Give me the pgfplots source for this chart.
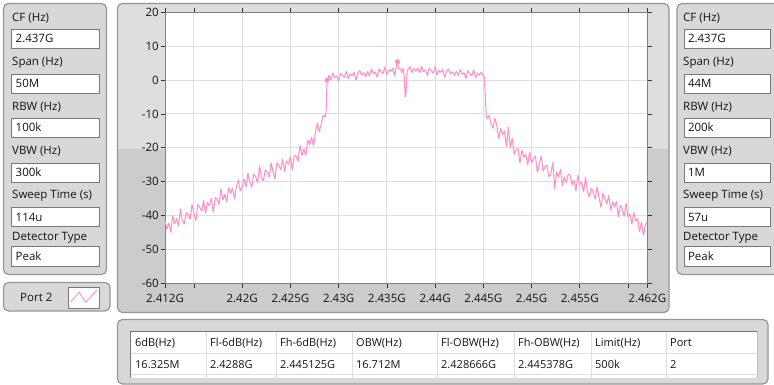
\documentclass[border=0pt]{standalone}
\usepackage{pgfplots}
\pgfplotsset{compat=1.18}
\usepackage{fontspec}
\setmainfont{Open Sans}
\definecolor{pnl}{RGB}{216,216,216}
\definecolor{pnlL}{RGB}{222,222,222}
\definecolor{pnlD}{RGB}{204,204,204}
\definecolor{edge}{RGB}{150,150,150}
\definecolor{boxedge}{RGB}{120,120,120}
\definecolor{txt}{RGB}{20,20,20}
\definecolor{trace}{RGB}{255,145,200}
\definecolor{gridc}{RGB}{222,222,222}
\newcommand{\uif}{\fontsize{11.5}{13}\selectfont}
\newcommand{\tbf}{\fontsize{11}{12}\selectfont}
% label x, box x1, box x2, label y, box y1, box y2, label, value
\newcommand{\field}[8]{%
  \node[anchor=base west, inner sep=0, text=txt] at (#1,#4+4.2) {\uif #7};
  \draw[fill=white, draw=boxedge, line width=0.9pt] (#2,#5) rectangle (#3,#6);
  \node[anchor=base west, inner sep=0, text=txt] at (#2+3.8,#5/2+#6/2+4.2) {\uif #8};
}
\begin{document}
\begin{tikzpicture}
\useasboundingbox (0pt,0pt) rectangle (774pt,-385pt);
\fill[white] (0pt,0pt) rectangle (774pt,-385pt);
\begin{scope}[x=1pt,y=-1pt]
  % graph panel
  \begin{scope}
    \clip[rounded corners=5pt] (117.5,3.5) rectangle (669,312.5);
    \fill[pnlL] (110,0) rectangle (680,149);
    \fill[pnlD] (110,149) rectangle (680,320);
  \end{scope}
  \draw[draw=edge, line width=1.2pt, rounded corners=5pt] (117.5,3.5) rectangle (669,312.5);
  % left panel
  \draw[fill=pnl, draw=edge, line width=1.2pt, rounded corners=5pt] (3.5,3.5) rectangle (106.5,274.5);
  \field{12}{11.7}{99}{17}{29}{48}{CF (Hz)}{2.437G}
  \field{12}{11.7}{99}{61.5}{74}{93}{Span (Hz)}{50M}
  \field{12}{11.7}{99}{106}{118}{137}{RBW (Hz)}{100k}
  \field{12}{11.7}{99}{150.5}{163}{182}{VBW (Hz)}{300k}
  \field{12}{11.7}{99}{194.7}{207}{226.7}{Sweep Time (s)}{114u}
  \field{12}{11.7}{99}{236}{246.5}{266.5}{Detector Type}{Peak}
  % right panel
  \draw[fill=pnl, draw=edge, line width=1.2pt, rounded corners=5pt] (677,3.5) rectangle (780,274.5);
  \field{683}{684}{770}{17}{29}{48}{CF (Hz)}{2.437G}
  \field{683}{684}{770}{61.5}{74}{93}{Span (Hz)}{44M}
  \field{683}{684}{770}{106}{118}{137}{RBW (Hz)}{200k}
  \field{683}{684}{770}{150.5}{163}{182}{VBW (Hz)}{1M}
  \field{683}{684}{770}{194.7}{207}{226.7}{Sweep Time (s)}{57u}
  \field{683}{684}{770}{236}{246.5}{266.5}{Detector Type}{Peak}
  % port legend
  \draw[fill=pnl, draw=edge, line width=1.2pt, rounded corners=5pt] (3.5,282.5) rectangle (110,311);
  \node[anchor=base west, inner sep=0, text=txt] at (20,301.2) {\uif Port 2};
  \draw[fill=white, draw=boxedge, line width=0.8pt] (68,287.5) rectangle (99,308);
  \draw[trace, line width=0.9pt] (71,301.7) -- (79,292.3) -- (86,302.3) -- (97,290);
  % table panel
  \draw[fill=pnl, draw=edge, line width=1.2pt, rounded corners=5pt] (117.5,319.5) rectangle (768,384);
  \fill[white] (130,331) rectangle (757,378);
  \draw[gridc, line width=0.8pt] (130,353) -- (757,353);
  \draw[gridc, line width=0.8pt] (130,374.5) -- (757,374.5);
  \foreach \cx in {206,276,352,437,514,591,666} {\draw[gridc, line width=0.8pt] (\cx,331) -- (\cx,378);}
  \draw[boxedge, line width=0.8pt] (130,378) -- (130,331) -- (757,331);
  \draw[black!25, line width=0.6pt] (757,331) -- (757,378);
  \foreach \cx/\h/\v in {135/6dB(Hz)/16.325M, 210/Fl-6dB(Hz)/2.4288G, 280/Fh-6dB(Hz)/2.445125G, 356/OBW(Hz)/16.712M, 441/Fl-OBW(Hz)/2.428666G, 518/Fh-OBW(Hz)/2.445378G, 595/Limit(Hz)/500k, 670/Port/2} {
    \node[anchor=base west, inner sep=0, text=txt] at (\cx,346.5) {\tbf \h};
    \node[anchor=base west, inner sep=0, text=txt] at (\cx,368.5) {\tbf \v};
  }
\end{scope}
\begin{axis}[
  at={(165pt,-283.3pt)}, anchor=south west,
  scale only axis, width=482.3pt, height=271pt,
  xmin=2412, xmax=2462, ymin=-60, ymax=20,
  axis background/.style={fill=white},
  axis line style={draw=black!50, line width=0.8pt},
  xtick={2412,2415,2420,2425,2430,2435,2440,2445,2450,2455,2460,2462},
  xticklabels={2.412G,,2.42G,2.425G,2.43G,2.435G,2.44G,2.445G,2.45G,2.455G,,2.462G},
  ytick={-60,-50,-40,-30,-20,-10,0,10,20},
  tick align=outside, major tick length=4.5pt,
  tick style={black!80, line width=0.7pt},
  xmajorgrids, ymajorgrids,
  grid style={draw=gridc, line width=1pt},
  tick label style={font=\fontsize{11.5}{12}\selectfont, text=txt},
  yticklabel style={inner sep=1.5pt},
  xticklabel style={yshift=-3pt},
  /pgf/number format/assume math mode=true,
  clip=true,
]
\addplot[trace, line width=1.05pt, line join=bevel] coordinates {
(2412.0,-41.5) (2412.2,-44.0) (2412.4,-42.2) (2412.6,-45.0) (2412.8,-40.0)
(2413.0,-42.5) (2413.2,-40.8) (2413.4,-43.2) (2413.6,-38.0) (2413.8,-41.6)
(2414.0,-42.5) (2414.2,-39.1) (2414.4,-39.7) (2414.6,-41.1) (2414.8,-36.7)
(2415.0,-39.3) (2415.2,-41.5) (2415.4,-36.7) (2415.6,-37.5) (2415.8,-38.8)
(2416.0,-35.5) (2416.2,-39.4) (2416.4,-36.1) (2416.6,-37.2) (2416.8,-34.9)
(2417.0,-39.0) (2417.2,-34.7) (2417.4,-35.1) (2417.6,-36.7) (2417.8,-32.0)
(2418.0,-35.4) (2418.2,-33.7) (2418.4,-36.0) (2418.6,-31.7) (2418.8,-33.5)
(2419.0,-31.8) (2419.2,-35.1) (2419.4,-31.5) (2419.6,-29.5) (2419.8,-32.7)
(2420.0,-31.4) (2420.2,-29.1) (2420.4,-31.6) (2420.6,-27.5) (2420.8,-30.3)
(2421.0,-31.7) (2421.2,-27.7) (2421.4,-28.5) (2421.6,-30.4) (2421.8,-25.3)
(2422.0,-28.8) (2422.2,-29.8) (2422.4,-26.5) (2422.6,-27.2) (2422.8,-28.7)
(2423.0,-24.4) (2423.2,-27.0) (2423.4,-29.2) (2423.6,-24.4) (2423.8,-25.2)
(2424.0,-26.5) (2424.2,-23.2) (2424.4,-27.1) (2424.6,-23.8) (2424.8,-24.9)
(2425.0,-22.6) (2425.2,-26.6) (2425.4,-22.2) (2425.6,-22.5) (2425.8,-24.0)
(2426.0,-19.2) (2426.2,-22.3) (2426.4,-20.3) (2426.6,-22.3) (2426.8,-17.7)
(2427.0,-19.2) (2427.2,-16.8) (2427.4,-19.5) (2427.6,-15.3) (2427.8,-12.7)
(2428.0,-15.3) (2428.2,-12.9) (2428.4,-10.4) (2428.6,-11.0) (2428.7,-9.5)
(2428.8,-0.2) (2428.9,0.3)
(2429.0,1.4) (2429.2,0.1) (2429.4,2.1) (2429.6,0.7) (2429.8,1.2)
(2430.0,-0.4) (2430.2,2.1) (2430.4,1.3) (2430.6,0.7) (2430.8,2.7)
(2431.0,0.3) (2431.2,1.9) (2431.4,1.3) (2431.6,2.4) (2431.8,-0.1)
(2432.0,2.2) (2432.2,2.8) (2432.4,1.4) (2432.6,2.2) (2432.8,1.0)
(2433.0,2.6) (2433.2,1.3) (2433.4,3.3) (2433.6,1.9) (2433.8,2.4)
(2434.0,0.8) (2434.2,3.3) (2434.4,2.5) (2434.6,1.9) (2434.8,3.9)
(2435.0,1.5) (2435.2,3.1) (2435.4,2.5) (2435.6,3.6) (2435.8,1.1)
(2436.0,4.4) (2436.1,5.4) (2436.2,3.4) (2436.4,3.3) (2436.6,2.2)
(2436.7,3.6) (2436.8,1.0) (2436.9,-5.0) (2437.0,-3.5) (2437.1,2.5)
(2437.2,3.2) (2437.4,4.0) (2437.6,2.2) (2437.8,3.4) (2438.0,2.6)
(2438.2,3.6) (2438.4,2.1) (2438.6,4.1) (2438.8,2.5) (2439.0,3.0)
(2439.2,1.3) (2439.4,3.6) (2439.6,2.8) (2439.8,2.0) (2440.0,4.0)
(2440.2,1.4) (2440.4,2.9) (2440.6,2.3) (2440.8,3.2) (2441.0,0.7)
(2441.2,2.8) (2441.4,3.3) (2441.6,1.8) (2441.8,2.5) (2442.0,1.3)
(2442.2,2.7) (2442.4,1.3) (2442.6,3.2) (2442.8,1.7) (2443.0,2.2)
(2443.2,0.4) (2443.4,2.8) (2443.6,1.9) (2443.8,1.2) (2444.0,3.1)
(2444.2,0.6) (2444.4,2.1) (2444.6,1.4) (2444.8,2.4) (2445.0,1.2)
(2445.1,1.0) (2445.2,-4.0) (2445.3,-10.5) (2445.4,-11.5)
(2445.6,-10.4) (2445.8,-12.9) (2446.0,-14.3) (2446.2,-11.3) (2446.4,-13.5)
(2446.6,-17.3) (2446.8,-14.2) (2447.0,-16.2) (2447.2,-14.9) (2447.4,-19.7)
(2447.6,-13.9) (2447.8,-20.1) (2448.0,-17.2) (2448.2,-22.0) (2448.4,-20.5)
(2448.6,-20.2) (2448.8,-24.6) (2449.0,-20.6) (2449.2,-22.9) (2449.4,-21.8)
(2449.6,-25.1) (2449.8,-21.2) (2450.0,-24.5) (2450.2,-23.2) (2450.4,-22.4)
(2450.6,-27.2) (2450.8,-25.0) (2451.0,-22.4) (2451.2,-26.9) (2451.4,-25.6)
(2451.6,-25.1) (2451.8,-28.6) (2452.0,-27.8) (2452.2,-24.2) (2452.4,-32.1)
(2452.6,-27.0) (2452.8,-28.7) (2453.0,-26.3) (2453.2,-31.3) (2453.4,-28.5)
(2453.6,-30.3) (2453.8,-27.8) (2454.0,-28.0) (2454.2,-30.9) (2454.4,-29.5)
(2454.6,-32.7) (2454.8,-28.1) (2455.0,-31.0) (2455.2,-30.0) (2455.4,-33.1)
(2455.6,-28.6) (2455.8,-32.9) (2456.0,-34.5) (2456.2,-31.8) (2456.4,-33.1)
(2456.6,-35.2) (2456.8,-31.5) (2457.0,-34.8) (2457.2,-37.6) (2457.4,-33.4)
(2457.6,-34.8) (2457.8,-36.7) (2458.0,-34.0) (2458.2,-38.5) (2458.4,-35.8)
(2458.6,-37.5) (2458.8,-35.8) (2459.0,-40.5) (2459.2,-36.9) (2459.4,-38.0)
(2459.6,-40.3) (2459.8,-36.3) (2460.0,-40.4) (2460.2,-39.5) (2460.4,-42.6)
(2460.6,-39.1) (2460.8,-41.7) (2461.0,-40.8) (2461.2,-44.8) (2461.4,-41.9)
(2461.6,-45.9) (2461.8,-42.7) (2462.0,-42.0)
};
\addplot[only marks, mark=*, mark size=2.3pt, color=trace] coordinates {(2436.1,5.4) (2428.8,0.0)};
\end{axis}
\end{tikzpicture}
\end{document}
